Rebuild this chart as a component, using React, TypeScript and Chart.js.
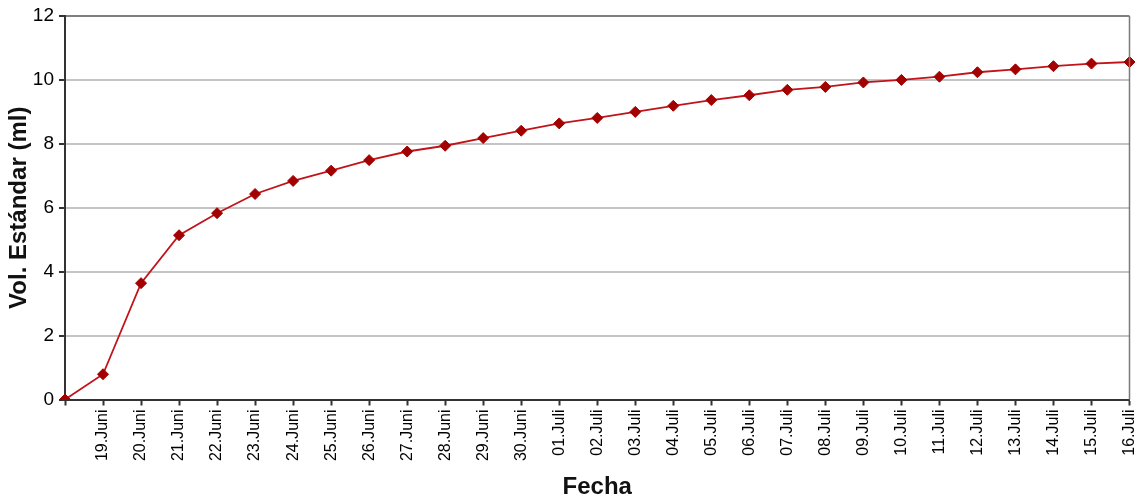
import React, { useEffect, useRef } from "react";
import { Chart, registerables } from "chart.js";

Chart.register(...registerables);

// Dates on the category axis (first point is the starting day, left unlabeled)
const fechas: string[] = [
  "",
  "19.Juni", "20.Juni", "21.Juni", "22.Juni", "23.Juni", "24.Juni",
  "25.Juni", "26.Juni", "27.Juni", "28.Juni", "29.Juni", "30.Juni",
  "01.Juli", "02.Juli", "03.Juli", "04.Juli", "05.Juli", "06.Juli",
  "07.Juli", "08.Juli", "09.Juli", "10.Juli", "11.Juli", "12.Juli",
  "13.Juli", "14.Juli", "15.Juli", "16.Juli",
];

// Cumulative standard volume (ml)
const volumen: number[] = [
  0, 0.79, 3.64, 5.14, 5.83, 6.43, 6.84,
  7.16, 7.49, 7.76, 7.94, 8.18, 8.41,
  8.64, 8.81, 9.0, 9.19, 9.37, 9.52,
  9.69, 9.78, 9.92, 10.0, 10.1, 10.24,
  10.33, 10.43, 10.51, 10.56,
];

const yTicks: number[] = [0, 2, 4, 6, 8, 10, 12];

const FONT = "'Liberation Sans', Arial, sans-serif";

// Thin frame line on the right edge of the plot area
const rightFrame = {
  id: "rightFrame",
  afterDraw(chart: any) {
    const { ctx, chartArea } = chart;
    ctx.save();
    ctx.strokeStyle = "#7a7a7a";
    ctx.lineWidth = 1.5;
    ctx.beginPath();
    ctx.moveTo(chartArea.right, chartArea.top);
    ctx.lineTo(chartArea.right, chartArea.bottom);
    ctx.stroke();
    ctx.restore();
  },
};

export default function App() {
  const canvasRef = useRef<HTMLCanvasElement | null>(null);

  useEffect(() => {
    document.body.style.margin = "0";
    const canvas = canvasRef.current;
    if (!canvas) return;
    const chart = new Chart(canvas, {
      type: "line",
      data: {
        labels: fechas,
        datasets: [
          {
            data: volumen,
            borderColor: "#c0141a",
            borderWidth: 1.8,
            backgroundColor: "#a30000",
            pointBackgroundColor: "#a30000",
            pointBorderColor: "#a30000",
            pointStyle: "rectRot",
            pointRadius: 5.5,
            pointBorderWidth: 1,
            tension: 0,
            fill: false,
          },
        ],
      },
      options: {
        responsive: false,
        animation: false,
        devicePixelRatio: 1,
        layout: { padding: { left: 0, right: 5, top: 16, bottom: 0 } },
        plugins: {
          legend: { display: false },
          tooltip: { enabled: false },
        },
        scales: {
          x: {
            type: "category",
            offset: false,
            grid: {
              drawOnChartArea: false,
              drawTicks: true,
              tickLength: 6,
              tickColor: "#333333",
              tickWidth: 2,
            },
            border: { display: true, color: "#333333", width: 2 },
            ticks: {
              autoSkip: false,
              minRotation: 90,
              maxRotation: 90,
              padding: 4,
              color: "#000000",
              font: { family: FONT, size: 16 },
            },
            title: {
              display: true,
              text: "Fecha",
              color: "#111111",
              font: { family: FONT, size: 24, weight: "bold" },
              padding: { top: 0, bottom: 0 },
            },
            afterFit(scale: any) {
              scale.height = 102.5;
              scale.paddingLeft = 0;
              scale.paddingRight = 0;
            },
          },
          y: {
            min: 0,
            max: 12,
            afterBuildTicks(scale: any) {
              scale.ticks = yTicks.map((v) => ({ value: v }));
            },
            grid: {
              color: (ctx: any) =>
                ctx.tick && ctx.tick.value === 12 ? "#7f7f7f" : "#c4c4c4",
              lineWidth: 2,
              drawTicks: true,
              tickLength: 6,
              tickColor: "#333333",
              tickWidth: 2,
            },
            border: { display: true, color: "#333333", width: 2 },
            ticks: {
              padding: 5,
              color: "#000000",
              font: { family: FONT, size: 19 },
            },
            title: {
              display: true,
              text: "Vol. Estándar (ml)",
              color: "#111111",
              font: { family: FONT, size: 24, weight: "bold" },
              padding: { top: 5, bottom: 0 },
            },
            afterFit(scale: any) {
              scale.width = 65;
              scale.paddingTop = 0;
              scale.paddingBottom = 0;
            },
          },
        },
      },
      plugins: [rightFrame],
    });
    return () => chart.destroy();
  }, []);

  return (
    <div style={{ width: 1136, height: 502 }}>
      <canvas ref={canvasRef} width={1136} height={502} />
    </div>
  );
}
